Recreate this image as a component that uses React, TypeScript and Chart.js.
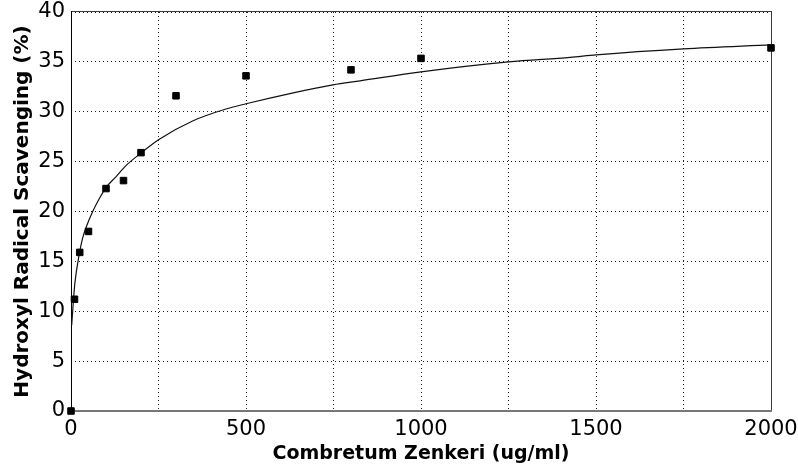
import React, { useEffect, useRef } from "react";
import { Chart, registerables } from "chart.js";

Chart.register(...registerables);

// Measured points (concentration ug/ml -> scavenging %)
const pointX = [0, 10, 25, 50, 100, 150, 200, 300, 500, 800, 1000, 2000];
const pointY = [0, 11.2, 15.9, 18.0, 22.3, 23.1, 25.9, 31.6, 33.6, 34.2, 35.35, 36.4];

// Fitted curve
const curveX = [2, 7, 11, 24, 33, 43, 62, 81, 100, 129, 157, 205, 250, 349, 445, 500, 635, 748, 826, 1000, 1250, 1426, 1500, 1750, 2000];
const curveY = [8.6, 11.1, 12.8, 15.8, 17.3, 18.4, 20.0, 21.3, 22.4, 23.5, 24.6, 26.0, 27.2, 29.1, 30.3, 30.8, 31.9, 32.7, 33.1, 34.0, 35.0, 35.45, 35.7, 36.3, 36.7];

const xMin = 0;
const xMax = 2000;
const xGridStep = 250;
const xLabelStep = 500;
const yMin = 0;
const yMax = 40;
const yStep = 5;

const xTitle = "Combretum Zenkeri (ug/ml)";
const yTitle = "Hydroxyl Radical Scavenging (%)";

const FONT = "'DejaVu Sans', 'Liberation Sans', Arial, sans-serif";

const framePlugin = {
  id: "frame",
  beforeDatasetsDraw(chart: any) {
    const { ctx, chartArea: a } = chart;
    ctx.save();
    ctx.fillStyle = "#3a3a3a";
    ctx.fillRect(a.left, a.top - 1, a.right - a.left + 1, 1);
    ctx.fillRect(a.right, a.top - 1, 1, a.bottom - a.top + 1);
    ctx.fillStyle = "#777777";
    ctx.fillRect(a.left, a.bottom - 1, a.right - a.left + 1, 2);
    ctx.fillStyle = "#000000";
    ctx.fillRect(a.left, a.top - 1, 1, a.bottom - a.top + 1);
    ctx.restore();
  },
};

export default function App() {
  const ref = useRef<HTMLCanvasElement | null>(null);

  useEffect(() => {
    if (!ref.current) return;
    const chart = new Chart(ref.current, {
      type: "scatter",
      data: {
        datasets: [
          {
            label: "data",
            data: pointX.map((x, i) => ({ x, y: pointY[i] })),
            pointStyle: "rect",
            pointRadius: 4.6,
            pointBackgroundColor: "#000",
            pointBorderColor: "#000",
            pointBorderWidth: 1,
            showLine: false,
            clip: false,
          } as any,
          {
            label: "fit",
            data: curveX.map((x, i) => ({ x, y: curveY[i] })),
            showLine: true,
            borderColor: "#111",
            borderWidth: 1.2,
            pointRadius: 0,
            cubicInterpolationMode: "monotone",
            fill: false,
          } as any,
        ],
      },
      options: {
        animation: false,
        responsive: false,
        layout: { padding: { left: 0, top: 12, right: 27, bottom: 0 } },
        plugins: {
          legend: { display: false },
          tooltip: { enabled: false },
        },
        scales: {
          x: {
            type: "linear",
            min: xMin,
            max: xMax,
            afterFit(scale: any) {
              scale.height = 62;
              scale.paddingLeft = 0;
              scale.paddingRight = 0;
            },
            ticks: {
              stepSize: xGridStep,
              autoSkip: false,
              maxRotation: 0,
              padding: 6,
              color: "#000",
              font: { family: FONT, size: 21 },
              callback: (v: any) => (Number(v) % xLabelStep === 0 ? String(v) : ""),
            },
            grid: { color: "#222", lineWidth: 1, drawTicks: false },
            border: { display: false, dash: [1, 3] },
            title: {
              display: true,
              text: xTitle,
              color: "#000",
              font: { family: FONT, size: 19, weight: "bold" },
              padding: { top: 0, bottom: 8 },
            },
          },
          y: {
            type: "linear",
            min: yMin,
            max: yMax,
            afterFit(scale: any) {
              scale.width = 71;
              scale.paddingTop = 0;
              scale.paddingBottom = 0;
            },
            ticks: {
              stepSize: yStep,
              padding: 6,
              color: "#000",
              font: { family: FONT, size: 21 },
            },
            grid: { color: "#222", lineWidth: 1, drawTicks: false },
            border: { display: false, dash: [1, 3] },
            title: {
              display: true,
              text: yTitle,
              color: "#000",
              font: { family: FONT, size: 20, weight: "bold" },
              padding: { top: 11, bottom: 0 },
            },
          },
        },
      },
      plugins: [framePlugin],
    });
    return () => chart.destroy();
  }, []);

  return (
    <div style={{ position: "absolute", left: 0, top: 0, width: 798, height: 473, background: "#fff" }}>
      <canvas ref={ref} width={798} height={473} />
    </div>
  );
}
